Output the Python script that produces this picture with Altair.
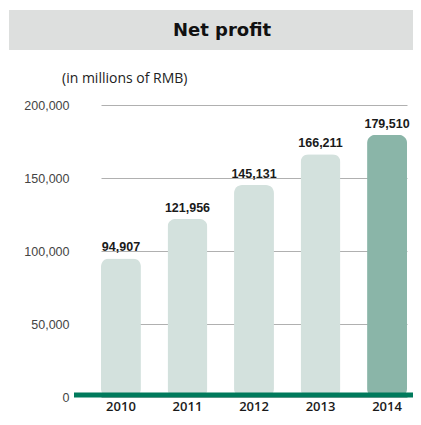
import altair as alt
import pandas as pd

years = ["2010", "2011", "2012", "2013", "2014"]
profits = [94907, 121956, 145131, 166211, 179510]
highlight = [False, False, False, False, True]
title_text = ["Net profit"]
subtitle_text = ["(in millions of RMB)"]
y_ticks = [0, 50000, 100000, 150000, 200000]

W, H = 339, 292

df = pd.DataFrame({"year": years, "profit": profits, "hl": highlight})
df["label"] = [f"{v:,}" for v in profits]

x = alt.X("year:N", sort=years,
          scale=alt.Scale(range=[27, 333], paddingInner=0.4, paddingOuter=0),
          axis=alt.Axis(title=None, domain=False, ticks=False, labelAngle=0,
                        labelFont="Open Sans", labelFontSize=13, labelFontWeight=600,
                        labelColor="#1a1a1a", labelPadding=3))
y = alt.Y("profit:Q", scale=alt.Scale(domain=[0, 200000], nice=False),
          axis=alt.Axis(title=None, values=y_ticks, format=",.0f", domain=False, ticks=False,
                        labelFont="Liberation Sans", labelFontSize=12.5, labelColor="#444444",
                        labelPadding=5, gridColor="#b0b0b0", gridWidth=1))

base = alt.Chart(df)

bars = base.mark_bar(cornerRadius=8).encode(
    x=x, y=y,
    color=alt.Color("hl:N", scale=alt.Scale(domain=[False, True], range=["#d3e1dd", "#8ab5a8"]), legend=None),
)

labels = base.mark_text(dy=-11, font="Liberation Sans", fontSize=12.5, fontWeight="bold",
                        color="#1a1a1a").encode(x=alt.X("year:N", sort=years), y="profit:Q", text="label:N")

baseline = alt.Chart(pd.DataFrame({"z": [0]})).mark_rule(color="#007a5c", strokeWidth=5, yOffset=-2).encode(
    y="z:Q", x=alt.value(0), x2=alt.value(W))

band = alt.Chart(pd.DataFrame({"t": title_text})).mark_rect(color="#dddfde").encode(
    x=alt.value(-65), x2=alt.value(W), y=alt.value(-95), y2=alt.value(-55))

title = alt.Chart(pd.DataFrame({"t": title_text})).mark_text(
    font="DejaVu Sans", fontSize=18, fontWeight="bold", color="#111111", align="center", baseline="middle"
).encode(x=alt.value(148), y=alt.value(-74), text="t:N")

subtitle = alt.Chart(pd.DataFrame({"t": subtitle_text})).mark_text(
    font="Open Sans", fontSize=14, color="#222222", align="left", baseline="middle"
).encode(x=alt.value(-12), y=alt.value(-26), text="t:N")

chart = alt.layer(band, title, subtitle, bars, labels, baseline).properties(
    width=W, height=H,
    autosize=alt.AutoSizeParams(type="none"),
    padding={"left": 66, "top": 97, "right": 0, "bottom": 20},
).configure_view(stroke=None)

chart.save("out.html", embed_options={"renderer": "svg", "actions": False})
